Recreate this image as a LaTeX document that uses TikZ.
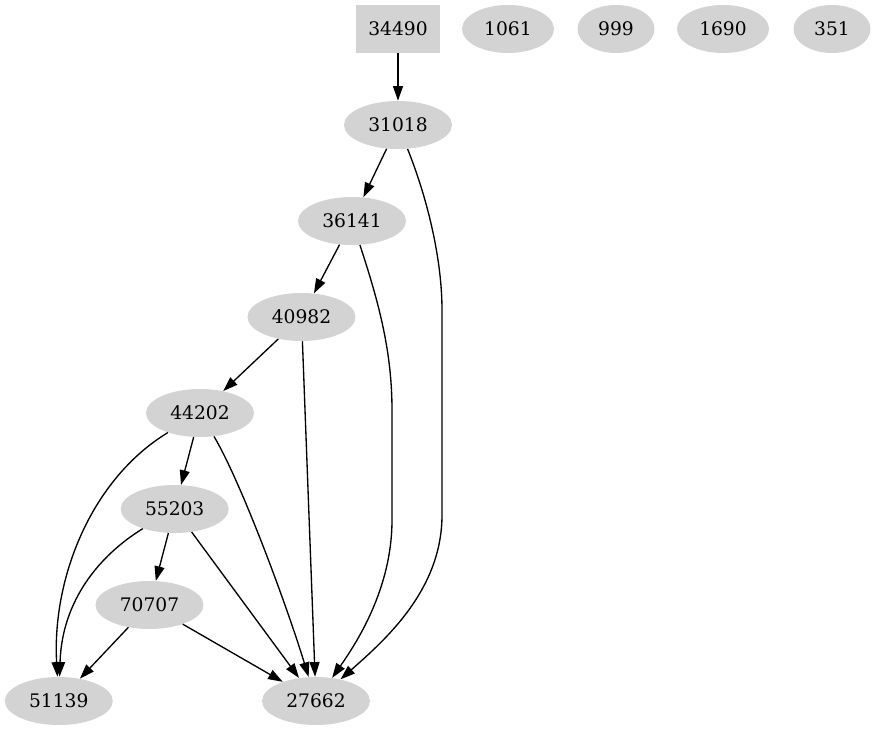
\documentclass[tikz,border=0pt]{standalone}
\usepackage{fontspec}
\setmainfont{DejaVu Serif}
\usetikzlibrary{arrows.meta,shapes.geometric}
\definecolor{nodegray}{HTML}{D3D3D3}
\tikzset{
  gnode/.style={ellipse, fill=nodegray, draw=none, inner sep=0pt, minimum height=36pt, font=\fontsize{14pt}{16pt}\selectfont},
  wide/.style={gnode, minimum width=81pt},
  mid/.style={gnode, minimum width=69pt},
  narrow/.style={gnode, minimum width=57.75pt},
  boxnode/.style={rectangle, fill=nodegray, draw=none, inner sep=0pt, minimum width=63pt, minimum height=36pt, font=\fontsize{14pt}{16pt}\selectfont},
  edge/.style={draw=black, line width=1pt, -{Triangle[length=11pt,width=7.5pt]}}
}
\begin{document}
\begin{tikzpicture}[x=0.75pt,y=-0.75pt]
\useasboundingbox (0,0) rectangle (876,731);
% nodes
\node[boxnode] (n34490) at (398,29) {34490};
\node[mid] (n1061) at (508,29) {1061};
\node[narrow] (n999) at (616,29) {999};
\node[mid] (n1690) at (723,29) {1690};
\node[narrow] (n351) at (832,29) {351};
\node[wide] (n31018) at (398,125) {31018};
\node[wide] (n36141) at (352,221) {36141};
\node[wide] (n40982) at (301.5,317) {40982};
\node[wide] (n44202) at (200,413) {44202};
\node[wide] (n55203) at (174.7,509) {55203};
\node[wide] (n70707) at (149.5,605) {70707};
\node[wide] (n51139) at (58.8,701) {51139};
\node[wide] (n27662) at (316,701) {27662};
% edges
\draw[edge] (n34490) -- (n31018);
\draw[edge] (n31018) -- (n36141);
\draw[edge] (n31018) .. controls (428,200) and (442,260) .. (442,310) -- (442,515) .. controls (442,590) and (385,640) .. (n27662);
\draw[edge] (n36141) -- (n40982);
\draw[edge] (n36141) .. controls (378,300) and (392,350) .. (392,410) -- (392,520) .. controls (392,590) and (355,645) .. (n27662);
\draw[edge] (n40982) -- (n44202);
\draw[edge] (n40982) -- (n27662);
\draw[edge] (n44202) -- (n55203);
\draw[edge] (n44202) .. controls (90,480) and (52,580) .. (n51139);
\draw[edge] (n44202) .. controls (240,480) and (285,600) .. (n27662);
\draw[edge] (n55203) -- (n70707);
\draw[edge] (n55203) .. controls (100,555) and (62,600) .. (n51139);
\draw[edge] (n55203) -- (n27662);
\draw[edge] (n70707) -- (n51139);
\draw[edge] (n70707) -- (n27662);
\end{tikzpicture}
\end{document}
